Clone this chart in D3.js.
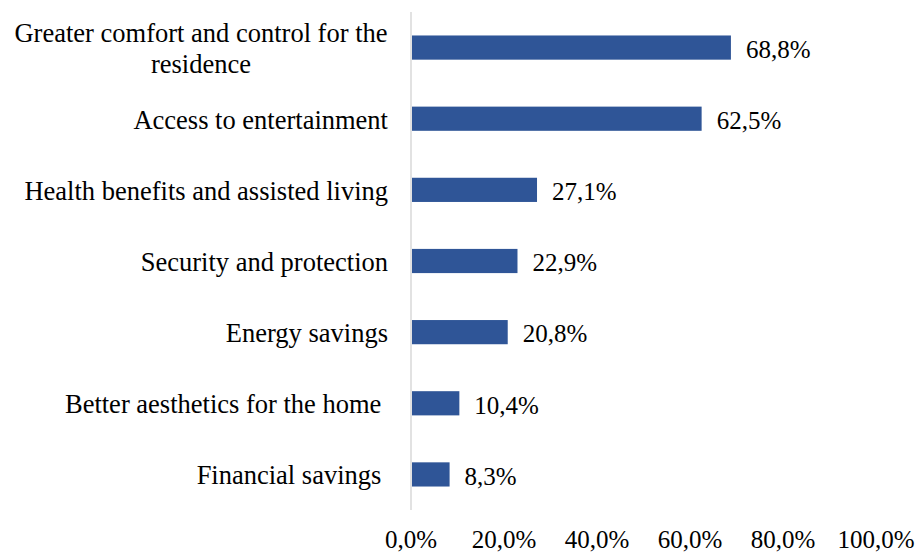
<!DOCTYPE html>
<html>
<head>
<meta charset="utf-8">
<script src="https://cdn.jsdelivr.net/npm/d3@7"></script>
<style>
  body { margin: 0; background: #fff; }
  svg text { font-family: "Liberation Serif", "Times New Roman", serif; fill: #000; }
</style>
</head>
<body>
<div id="c"></div>
<script>
"use strict";

// categories, top to bottom
const categories = [
    ["Greater comfort and control for the", "residence"],
    ["Access to entertainment"],
    ["Health benefits and assisted living"],
    ["Security and protection"],
    ["Energy savings"],
    ["Better aesthetics for the home\u00a0"],
    ["Financial savings\u00a0"]
]
const values = [68.8, 62.5, 27.1, 22.9, 20.8, 10.4, 8.3]
const tickValues = [0, 20, 40, 60, 80, 100]

const width = 917, height = 553
const margin = {top: 12, right: 41, bottom: 43, left: 411}
const catFont = 26.5
const numFont = 25

const fmt = v => d3.format(".1f")(v).replace(".", ",") + "%"

let svg = d3.select('#c').append('svg')
    .attr('width', width)
    .attr('height', height)

let x = d3.scaleLinear()
    .domain([0, 100])
    .range([margin.left, width - margin.right])

let y = d3.scaleBand()
    .domain(d3.range(categories.length))
    .range([margin.top, height - margin.bottom])
    .paddingInner(0.66)
    .paddingOuter(0.33)

// bars
svg.append('g')
    .selectAll('rect')
    .data(values)
    .enter()
    .append('rect')
        .attr('x', x(0) + 1)
        .attr('y', (d, i) => y(i))
        .attr('width', d => x(d) - x(0) - 1)
        .attr('height', y.bandwidth())
        .attr('fill', '#2F5597')

// value labels
svg.append('g')
    .selectAll('text')
    .data(values)
    .enter()
    .append('text')
        .attr('x', d => x(d) + 15)
        .attr('y', (d, i) => y(i) + y.bandwidth() / 2)
        .attr('dy', '0.41em')
        .style('font-size', numFont + 'px')
        .text(d => fmt(d))

// vertical axis line
const step = y.step()
svg.append('line')
    .attr('x1', x(0)).attr('x2', x(0))
    .attr('y1', y(0) + y.bandwidth() / 2 - step / 2)
    .attr('y2', y(categories.length - 1) + y.bandwidth() / 2 + step / 2)
    .attr('stroke', '#d9d9d9')
    .attr('stroke-width', 1.5)

// category labels (wrapped lines centered as a block, right aligned)
const lineGap = 31
categories.forEach((lines, i) => {
    let cy = y(i) + y.bandwidth() / 2
    let g = svg.append('text')
        .style('font-size', catFont + 'px')
        .attr('text-anchor', lines.length > 1 ? 'middle' : 'end')
    lines.forEach((ln, k) => {
        g.append('tspan')
            .attr('x', lines.length > 1 ? 201 : x(0) - 23)
            .attr('y', cy + (k - (lines.length - 1) / 2) * lineGap)
            .attr('dy', '0.38em')
            .text(ln)
    })
})

// x tick labels
svg.append('g')
    .selectAll('text')
    .data(tickValues)
    .enter()
    .append('text')
        .attr('x', d => x(d))
        .attr('y', 548)
        .attr('text-anchor', 'middle')
        .style('font-size', numFont + 'px')
        .text(d => fmt(d))
</script>
</body>
</html>
